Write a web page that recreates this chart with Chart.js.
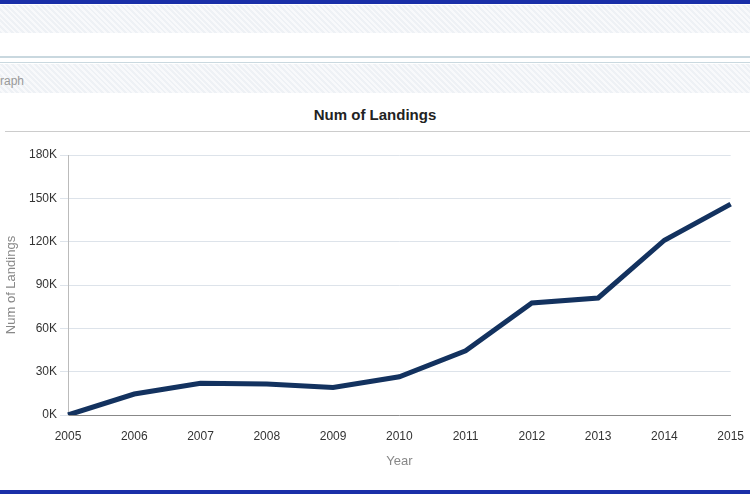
<!DOCTYPE html>
<html><head>
<script src="https://cdn.jsdelivr.net/npm/chart.js@4"></script>
<style>
body{margin:0;width:750px;height:500px;position:relative;overflow:hidden;background:#fff;font-family:"Liberation Sans",Arial,sans-serif}
.bar{position:absolute;left:0;width:750px;background:repeating-linear-gradient(45deg,#eef1f5 0 2px,#f8f9fb 2px 4px)}
#title{position:absolute;top:106px;left:0;width:750px;text-align:center;font-weight:bold;font-size:15px;color:#222}
#wrap{position:absolute;top:100px;left:0;width:750px;height:385px}
</style></head><body>
<div style="position:absolute;top:0;left:0;width:750px;height:4px;background:#1a2fa8"></div>
<div class="bar" style="top:5px;height:28px"></div>
<div style="position:absolute;top:56px;left:0;width:750px;height:2px;background:#c9d8df"></div>
<div style="position:absolute;top:62px;left:0;width:750px;height:1px;background:#c9d8df"></div>
<div class="bar" style="top:64px;height:29px"></div>
<div style="position:absolute;top:74px;left:0;font-size:12px;color:#999">raph</div>
<div id="title">Num of Landings</div>
<div style="position:absolute;top:131px;left:5px;width:745px;height:1px;background:#ccc"></div>
<div style="position:absolute;top:490px;left:0;width:750px;height:4px;background:#1a2fa8"></div>
<div id="wrap"><canvas id="c"></canvas></div>
<script>
const years = ['2005','2006','2007','2008','2009','2010','2011','2012','2013','2014','2015'];
const landings = [0,14500,22000,21500,19000,26500,44500,77500,81000,121000,146000];

new Chart(document.getElementById('c'), {
  type: 'line',
  data: { labels: years, datasets: [{ data: landings, borderColor: '#13325f', borderWidth: 5, pointRadius: 0, tension: 0 }] },
  options: {
    responsive: true, maintainAspectRatio: false, animation: false,
    layout: { padding: { top: 55, right: 14 } },
    plugins: { legend: { display: false }, tooltip: { enabled: false } },
    scales: {
      x: {
        offset: false,
        grid: { display: false },
        border: { color: '#888' },
        ticks: { color: '#333', font: { size: 12 }, maxRotation: 0, padding: 6 },
        title: { display: true, text: 'Year', color: '#888', font: { size: 13 }, padding: { top: 4, bottom: 16 } },
        afterFit: s => { s.height = 70; }
      },
      y: {
        min: 0, max: 180000,
        ticks: { stepSize: 30000, color: '#333', font: { size: 12 }, callback: v => (v / 1000) + 'K' },
        grid: { color: '#dde3ea' },
        border: { display: true, color: '#bbb' },
        title: { display: true, text: 'Num of Landings', color: '#888', font: { size: 13 } },
        afterFit: s => { s.width = 68; }
      }
    }
  }
});
</script>
</body></html>
